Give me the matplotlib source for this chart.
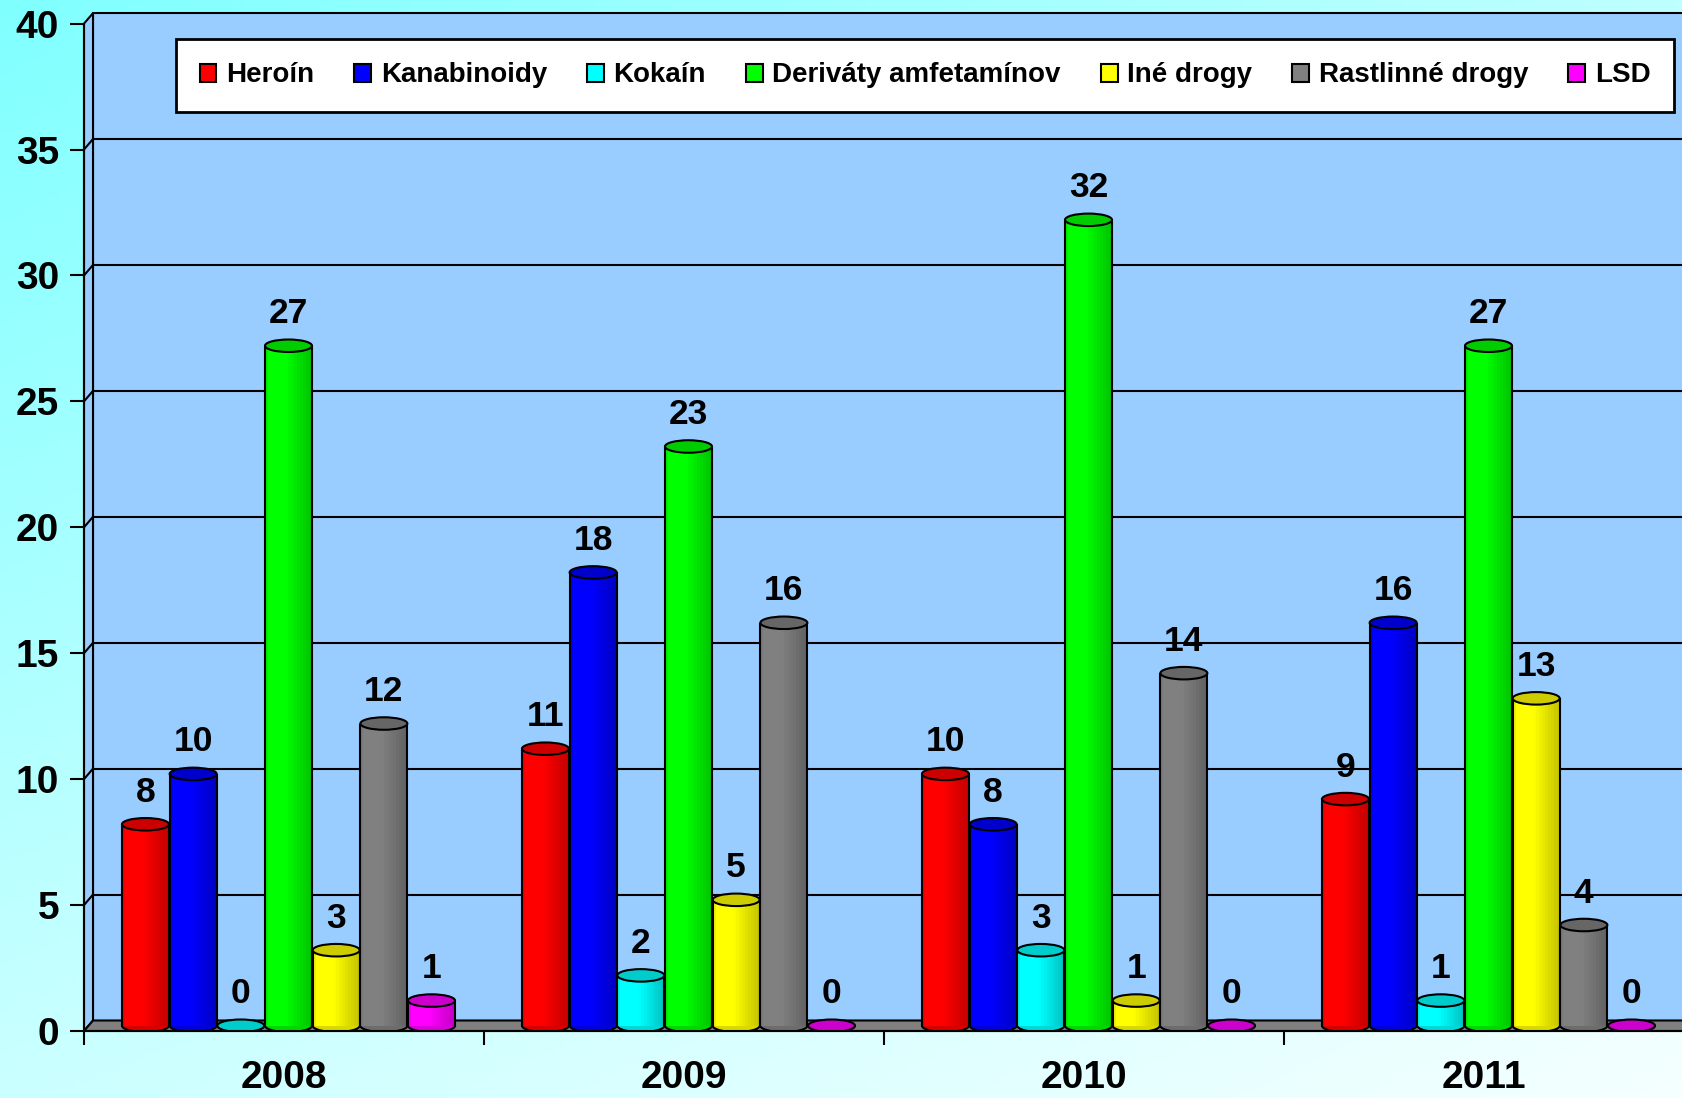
import matplotlib
matplotlib.use("Agg")
import matplotlib.pyplot as plt
import numpy as np
from matplotlib.patches import Ellipse, Polygon, Rectangle, Patch

plt.rcParams["font.family"] = ["Liberation Sans", "DejaVu Sans"]
plt.rcParams["font.weight"] = "bold"

years = ["2008", "2009", "2010", "2011"]
series = ["Heroín", "Kanabinoidy", "Kokaín", "Deriváty amfetamínov",
          "Iné drogy", "Rastlinné drogy", "LSD"]
heroin = [8, 11, 10, 9]
kanabinoidy = [10, 18, 8, 16]
kokain = [0, 2, 3, 1]
derivaty = [27, 23, 32, 27]
ine_drogy = [3, 5, 1, 13]
rastlinne = [12, 16, 14, 4]
lsd = [1, 0, 0, 0]
values = [heroin, kanabinoidy, kokain, derivaty, ine_drogy, rastlinne, lsd]
colors = ["#ff0000", "#0000ff", "#00ffff", "#00ff00", "#ffff00", "#808080", "#ff00ff"]

W, H = 1683, 1098
fig = plt.figure(figsize=(W / 100, H / 100), dpi=100)

# background: diagonal cyan gradient
bg = fig.add_axes([0, 0, 1, 1], zorder=-10)
gx, gy = np.meshgrid(np.linspace(0, 1, 200), np.linspace(0, 1, 200))
red = np.clip(128 + 62 * gx + 75 * gy - 20 * gx * gy, 0, 255) / 255
bg_img = np.dstack([red, np.ones_like(red), np.ones_like(red)])
bg.imshow(bg_img, aspect="auto", extent=[0, 1, 1, 0])
bg.axis("off")

# front plane of the 3-D box: y=0 at px 1031, y=40 at px 24
ax = fig.add_axes([84 / W, (H - 1031) / H, 1600 / W, (1031 - 23.6) / H])
ax.patch.set_visible(False)
ax.set_xlim(-0.5, 3.5)
ax.set_ylim(0, 40)

px_x = 1 / 400.0          # data units per pixel (x)
px_y = 40 / 1007.4        # data units per pixel (y)
DX, DY = 9 * px_x, 10.5 * px_y

x0, x1 = -0.5, 3.5
# back wall, left wall, floor
ax.add_patch(Rectangle((x0 + DX, DY), 4.2, 40, facecolor="#99ccff",
                       edgecolor="black", lw=1.5, zorder=0.5, clip_on=False))
ax.add_patch(Polygon([(x0, 0), (x0, 40), (x0 + DX, 40 + DY), (x0 + DX, DY)],
                     closed=True, facecolor="#99ccff", edgecolor="black",
                     lw=1.5, zorder=0.6, clip_on=False))
for yv in range(5, 40, 5):
    ax.plot([x0 + DX, x1 + DX + 0.2], [yv + DY, yv + DY], color="black",
            lw=1.5, zorder=0.7, clip_on=False)
    ax.plot([x0, x0 + DX], [yv, yv + DY], color="black", lw=1.5,
            zorder=0.7, clip_on=False)
ax.add_patch(Polygon([(x0, 0), (x1 + 0.2, 0), (x1 + 0.2 + DX, DY), (x0 + DX, DY)],
                     closed=True, facecolor="#808080", edgecolor="black",
                     lw=1.5, zorder=0.8, clip_on=False))

# cylinders
bw = 0.1175
pitch = 0.1192
eh = 12.5 * px_y
nstrip = 16
t = (np.arange(nstrip) + 0.5) / nstrip
shade = 1 - 0.22 * np.clip((t - 0.45) / 0.5, 0, 1)
shade[0] *= 0.94
for i, (vals, col) in enumerate(zip(values, colors)):
    rgb = np.array(matplotlib.colors.to_rgb(col))
    cap = rgb * 0.8
    for g, v in enumerate(vals):
        xc = g + (i - 3) * pitch + DX / 2
        base = DY / 2
        z = 2 + i * 0.01
        if v > 0:
            ax.add_patch(Ellipse((xc, base), bw, eh, facecolor=rgb * 0.85,
                                 edgecolor="black", lw=1.5, zorder=z))
            sx = xc - bw / 2 + (np.arange(nstrip) + 0.5) * bw / nstrip
            ax.bar(sx, v, width=bw / nstrip * 1.02, bottom=base,
                   color=[rgb * s for s in shade], linewidth=0, zorder=z + 0.001)
            ax.vlines([xc - bw / 2, xc + bw / 2], base, base + v, color="black",
                      lw=1.5, zorder=z + 0.002)
        ax.add_patch(Ellipse((xc, base + v), bw, eh, facecolor=cap,
                             edgecolor="black", lw=1.5, zorder=z + 0.003))
        ax.annotate(str(v), (xc, base + v), xytext=(0, 23),
                    textcoords="offset points", ha="center", va="center",
                    fontsize=25.5, fontweight="bold", zorder=5)

# axes styling
for s in ["top", "right"]:
    ax.spines[s].set_visible(False)
for s in ["left", "bottom"]:
    ax.spines[s].set_linewidth(1.5)
    ax.spines[s].set_zorder(3)
ax.set_yticks(range(0, 41, 5))
ax.tick_params(axis="y", labelsize=28, length=10, width=1.5, pad=8)
ax.set_xticks(range(4))
ax.set_xticklabels(years, fontsize=28, fontweight="bold")
ax.set_xticks([x0 + k for k in range(5)], minor=True)
ax.tick_params(axis="x", which="major", length=0, pad=21)
ax.tick_params(axis="x", which="minor", length=10, width=1.5)
for lab in ax.get_yticklabels():
    lab.set_fontweight("bold")

handles = [Patch(facecolor=c, edgecolor="black", linewidth=1.5) for c in colors]
leg = fig.legend(handles, series, loc="center", ncol=7, mode="expand",
                 bbox_to_anchor=(176 / W, 1 - 117 / H, 1498 / W, 83 / H),
                 fontsize=20, frameon=True, fancybox=False, edgecolor="black",
                 framealpha=1, borderpad=0.85, handlelength=0.6,
                 handleheight=0.6, handletextpad=0.35, borderaxespad=0)
leg.get_frame().set_linewidth(2)
for txt in leg.get_texts():
    txt.set_fontweight("bold")

fig.savefig("out.png", dpi=100)
